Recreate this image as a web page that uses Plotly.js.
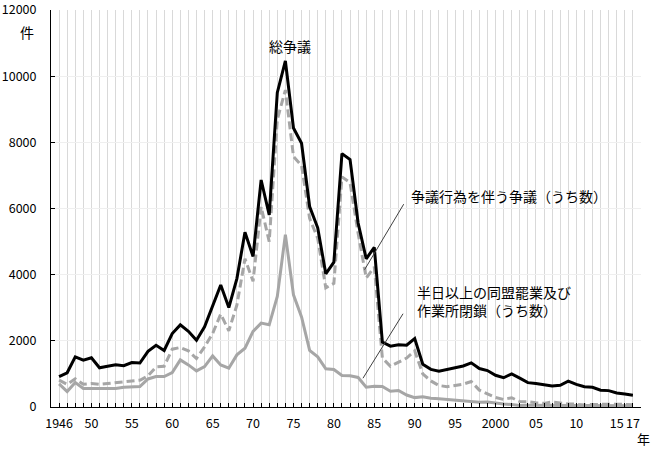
<!DOCTYPE html>
<html>
<head>
<meta charset="utf-8">
<script src="https://cdn.plot.ly/plotly-3.0.1.min.js"></script>
<style>html,body{margin:0;padding:0;background:#fff;}#chart{width:660px;height:450px;}</style>
</head>
<body>
<div id="chart"></div>
<script>
const years = [1946,1947,1948,1949,1950,1951,1952,1953,1954,1955,1956,1957,1958,1959,1960,1961,1962,1963,1964,1965,1966,1967,1968,1969,1970,1971,1972,1973,1974,1975,1976,1977,1978,1979,1980,1981,1982,1983,1984,1985,1986,1987,1988,1989,1990,1991,1992,1993,1994,1995,1996,1997,1998,1999,2000,2001,2002,2003,2004,2005,2006,2007,2008,2009,2010,2011,2012,2013,2014,2015,2016,2017];

// 総争議
const totalDisputes = [920,1035,1517,1414,1487,1186,1233,1277,1247,1345,1330,1680,1864,1709,2222,2483,2287,2016,2422,3051,3687,3004,3882,5283,4551,6861,5808,9500,10462,8435,7974,6060,5416,4026,4376,7660,7477,5562,4480,4826,1964,1840,1879,1868,2071,1292,1138,1084,1136,1200,1240,1334,1164,1102,958,884,1002,872,737,708,662,636,657,780,682,612,596,507,495,425,391,358];

// 争議行為を伴う争議（うち数）
const withActions = [810,683,850,690,709,685,709,740,760,790,810,940,1212,1232,1748,1798,1697,1465,1818,2222,2808,2303,3081,4480,3800,6050,5000,8690,9581,7574,7300,5700,5100,3600,3737,6956,6779,5250,3900,4230,1480,1230,1360,1480,1698,1000,788,650,615,660,690,770,510,400,290,230,280,165,160,125,110,150,110,92,85,57,79,71,80,86,66,68];

// 半日以上の同盟罷業及び作業所閉鎖（うち数）
const halfDayStrikes = [700,465,737,560,557,557,557,560,600,610,620,848,920,920,1040,1424,1273,1091,1222,1545,1273,1172,1576,1778,2283,2535,2485,3343,5211,3391,2720,1712,1517,1153,1133,955,944,893,596,627,620,474,498,362,284,310,263,252,230,209,193,178,145,154,118,90,74,47,51,50,46,54,52,48,38,28,38,31,27,39,31,38];

const xTickYears  = [1946,1950,1955,1960,1965,1970,1975,1980,1985,1990,1995,2000,2005,2010,2015,2017];
const xTickLabels = ['1946','50','55','60','65','70','75','80','85','90','95','2000','05','10','15','17'];
const yTickValues = [0,2000,4000,6000,8000,10000,12000];

const tickVals = years.concat([2018]);
const tickText = tickVals.map(y => { const i = xTickYears.indexOf(y); return i >= 0 ? xTickLabels[i] : ''; });

const GRAY = '#a6a6a6';
const JP = '"Noto Sans CJK JP", sans-serif';
const NUM = '"Noto Sans CJK JP", sans-serif';

const traces = [
  {x: years, y: halfDayStrikes, type: 'scatter', mode: 'lines', line: {color: GRAY, width: 3}, hoverinfo: 'skip'},
  {x: years, y: withActions, type: 'scatter', mode: 'lines', line: {color: GRAY, width: 3, dash: '8px,4px'}, hoverinfo: 'skip'},
  {x: years, y: totalDisputes, type: 'scatter', mode: 'lines', line: {color: '#000000', width: 3}, hoverinfo: 'skip'}
];

const layout = {
  width: 660, height: 450,
  margin: {l: 51, r: 19, t: 10, b: 43},
  paper_bgcolor: '#ffffff', plot_bgcolor: '#ffffff',
  showlegend: false,
  font: {family: JP, size: 14, color: '#000'},
  xaxis: {
    range: [1945, 2018],
    tickmode: 'array', tickvals: tickVals, ticktext: tickText,
    tickangle: 0,
    ticks: 'inside', ticklen: 4, tickcolor: '#000', tickwidth: 1,
    showgrid: true, gridcolor: '#d9d9d9', gridwidth: 1,
    showline: true, linecolor: '#000', linewidth: 1,
    zeroline: false,
    tickfont: {family: NUM, size: 12.5, color: '#000'},
    ticklabelstandoff: 5,
    ticklabeloverflow: 'allow',
    fixedrange: true
  },
  yaxis: {
    range: [0, 12000],
    tickmode: 'array', tickvals: yTickValues, ticktext: yTickValues.map(String),
    ticks: 'inside', ticklen: 4, tickcolor: '#000', tickwidth: 1,
    showgrid: true, gridcolor: '#efefef', gridwidth: 1,
    showline: true, linecolor: '#000', linewidth: 1,
    zeroline: false,
    tickfont: {family: NUM, size: 12.5, color: '#000'},
    ticklabelstandoff: 11,
    ticklabeloverflow: 'allow',
    fixedrange: true
  },
  annotations: [
    {xref: 'paper', yref: 'paper', x: -0.04, y: 0.945, xanchor: 'center', yanchor: 'middle', text: '件', showarrow: false, font: {family: JP, size: 14}},
    {xref: 'paper', yref: 'paper', x: 1.004, y: -0.080, xanchor: 'center', yanchor: 'middle', text: '年', showarrow: false, font: {family: JP, size: 13}},
    {xref: 'x', yref: 'y', x: 1974.6, y: 10900, xanchor: 'center', yanchor: 'middle', text: '総争議', showarrow: false, font: {family: JP, size: 14}},
    {xref: 'x', yref: 'y', x: 1989.3, y: 6380, xanchor: 'left', yanchor: 'middle', text: '争議行為を伴う争議（うち数）', showarrow: false, font: {family: JP, size: 14}},
    {xref: 'x', yref: 'y', x: 1990.0, y: 3200, xanchor: 'left', yanchor: 'middle', align: 'left', text: '半日以上の同盟罷業及び<br>作業所閉鎖（うち数）', showarrow: false, font: {family: JP, size: 14}},
    {xref: 'x', yref: 'y', x: 1983.8, y: 4150, ax: 40, ay: -67, text: '', showarrow: true, arrowhead: 0, arrowwidth: 1, arrowcolor: '#404040', standoff: 0, startstandoff: 0},
    {xref: 'x', yref: 'y', x: 1983.6, y: 870, ax: 41, ay: -66, text: '', showarrow: true, arrowhead: 0, arrowwidth: 1, arrowcolor: '#404040', standoff: 0, startstandoff: 0}
  ]
};

Plotly.newPlot('chart', traces, layout, {staticPlot: true, displayModeBar: false});
</script>
</body>
</html>
